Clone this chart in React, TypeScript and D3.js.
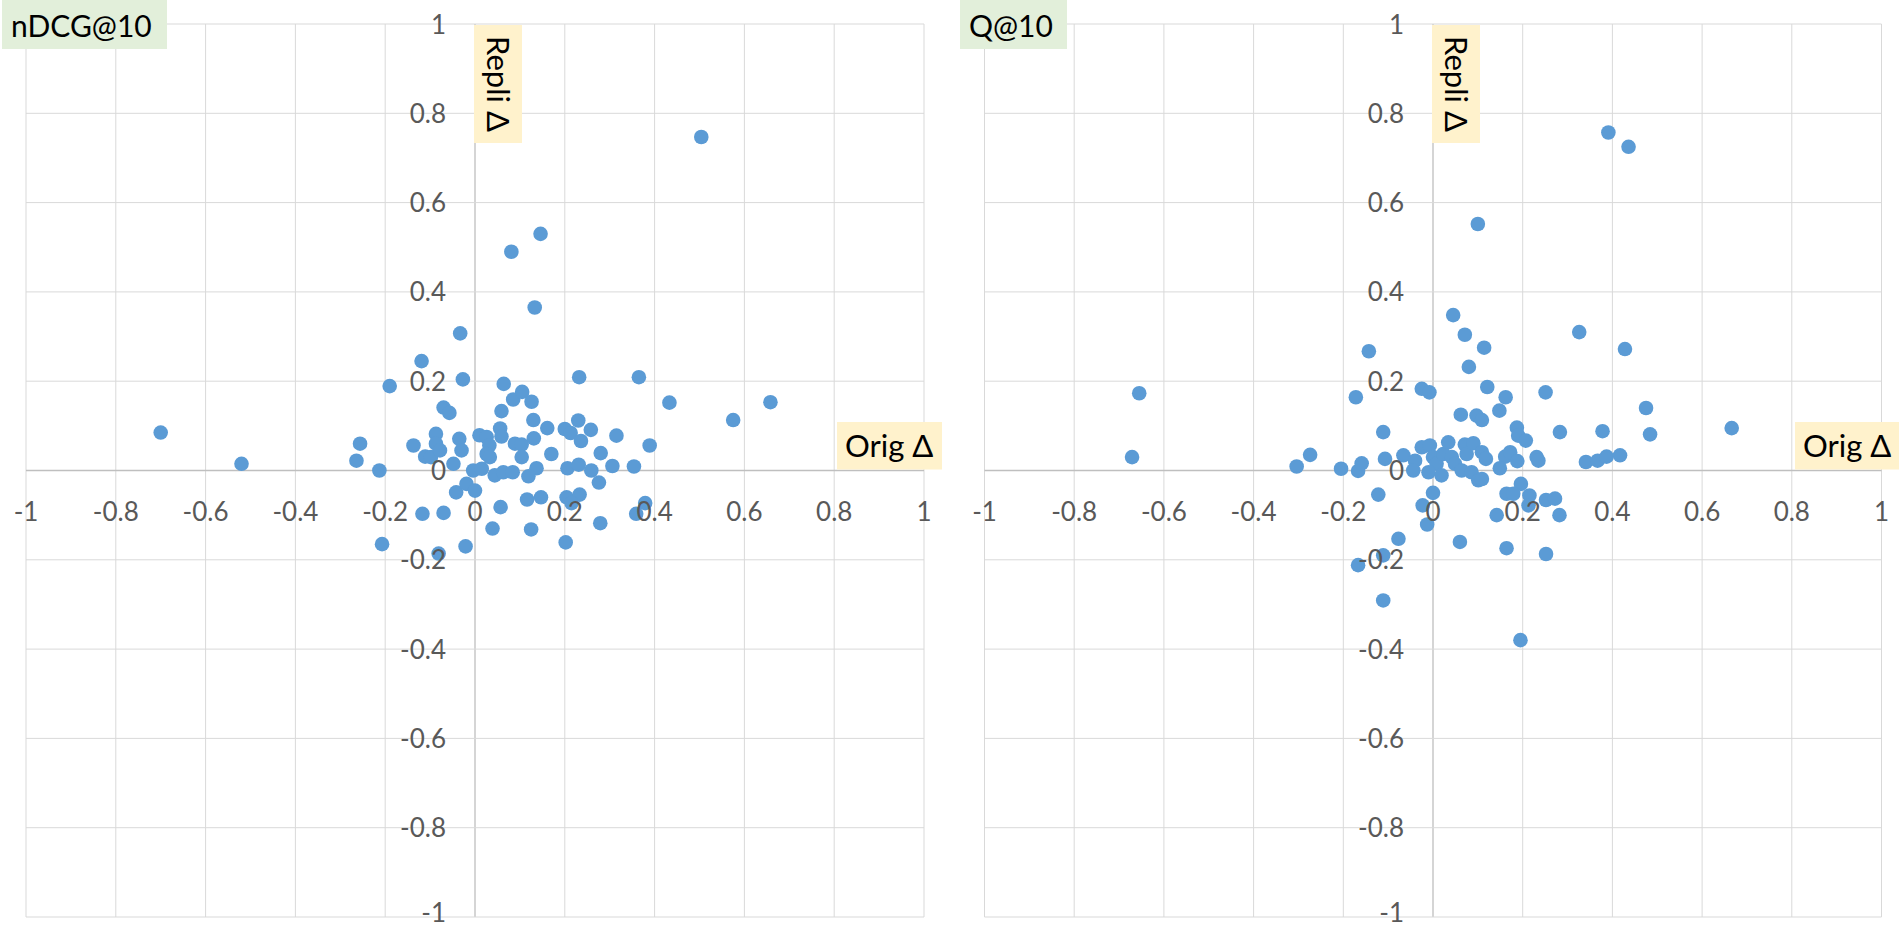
import React from "react";
import * as d3 from "d3";

const tickValues = [-1, -0.8, -0.6, -0.4, -0.2, 0, 0.2, 0.4, 0.6, 0.8, 1];
const tickLabels = ["-1", "-0.8", "-0.6", "-0.4", "-0.2", "0", "0.2", "0.4", "0.6", "0.8", "1"];

// nDCG@10: [Orig Δ, Repli Δ]
const ndcgPoints: [number, number][] = [
  [-0.70, 0.085], [-0.52, 0.015], [-0.256, 0.06], [-0.264, 0.022], [-0.213, 0.0],
  [-0.207, -0.165], [-0.19, 0.189], [-0.119, 0.245], [-0.137, 0.056], [-0.117, -0.097],
  [-0.087, 0.082], [-0.087, 0.06], [-0.111, 0.031], [-0.098, 0.03], [-0.078, 0.045],
  [-0.07, 0.141], [-0.057, 0.129], [-0.07, -0.095], [-0.081, -0.186], [-0.048, 0.015],
  [-0.035, 0.071], [-0.03, 0.045], [-0.033, 0.307], [-0.027, 0.204], [-0.042, -0.049],
  [-0.019, -0.03], [-0.021, -0.17], [0.0, -0.045], [-0.004, 0.0], [0.015, 0.004],
  [0.01, 0.079], [0.026, 0.075], [0.032, 0.056], [0.026, 0.037], [0.033, 0.03],
  [0.044, -0.011], [0.056, 0.094], [0.059, 0.076], [0.059, 0.133], [0.064, 0.194],
  [0.063, -0.004], [0.057, -0.082], [0.039, -0.13], [0.081, 0.49], [0.084, -0.004],
  [0.085, 0.159], [0.089, 0.06], [0.104, 0.058], [0.104, 0.03], [0.105, 0.176],
  [0.126, 0.154], [0.13, 0.113], [0.133, 0.365], [0.146, 0.53], [0.131, 0.072],
  [0.137, 0.005], [0.119, -0.013], [0.116, -0.065], [0.147, -0.06], [0.125, -0.132],
  [0.161, 0.095], [0.17, 0.037], [0.2, 0.093], [0.213, 0.084], [0.23, 0.112],
  [0.258, 0.091], [0.236, 0.066], [0.232, 0.209], [0.28, 0.039], [0.315, 0.078],
  [0.389, 0.056], [0.365, 0.209], [0.433, 0.152], [0.575, 0.113], [0.658, 0.153],
  [0.504, 0.747], [0.206, 0.005], [0.231, 0.013], [0.259, 0.0], [0.276, -0.027],
  [0.306, 0.01], [0.354, 0.009], [0.204, -0.06], [0.233, -0.054], [0.379, -0.073],
  [0.359, -0.097], [0.279, -0.118], [0.202, -0.161], [0.215, -0.073],
];

// Q@10: [Orig Δ, Repli Δ]
const qPoints: [number, number][] = [
  [-0.671, 0.03], [-0.655, 0.173], [-0.304, 0.009], [-0.274, 0.035], [-0.205, 0.004],
  [-0.167, -0.001], [-0.159, 0.016], [-0.172, 0.164], [-0.143, 0.267], [-0.122, -0.054],
  [-0.111, 0.086], [-0.107, 0.026], [-0.066, 0.034], [-0.04, 0.022], [-0.044, 0.0],
  [-0.025, 0.052], [-0.007, 0.056], [-0.025, 0.183], [-0.008, 0.175], [0.0, -0.05],
  [-0.023, -0.078], [-0.013, -0.121], [-0.077, -0.153], [-0.111, -0.19], [-0.167, -0.212],
  [-0.111, -0.291], [0.06, -0.16], [0.0, 0.03], [0.008, 0.015], [-0.01, -0.004],
  [0.019, -0.011], [0.023, 0.037], [0.034, 0.063], [0.042, 0.03], [0.049, 0.015],
  [0.071, 0.058], [0.075, 0.037], [0.064, 0.0], [0.09, 0.061], [0.086, -0.004],
  [0.101, -0.022], [0.045, 0.348], [0.071, 0.304], [0.08, 0.232], [0.10, 0.552],
  [0.114, 0.275], [0.062, 0.125], [0.097, 0.123], [0.109, 0.113], [0.121, 0.187],
  [0.162, 0.164], [0.148, 0.134], [0.251, 0.175], [0.187, 0.096], [0.19, 0.078],
  [0.207, 0.067], [0.283, 0.086], [0.378, 0.088], [0.326, 0.31], [0.428, 0.272],
  [0.391, 0.757], [0.436, 0.725], [0.475, 0.14], [0.484, 0.081], [0.666, 0.095],
  [0.109, 0.041], [0.118, 0.026], [0.161, 0.031], [0.172, 0.041], [0.188, 0.021],
  [0.231, 0.03], [0.235, 0.022], [0.149, 0.005], [0.341, 0.019], [0.367, 0.022],
  [0.387, 0.031], [0.417, 0.034], [0.109, -0.019], [0.196, -0.03], [0.164, -0.052],
  [0.179, -0.052], [0.215, -0.056], [0.213, -0.078], [0.252, -0.066], [0.272, -0.063],
  [0.142, -0.1], [0.282, -0.1], [0.164, -0.174], [0.252, -0.187], [0.195, -0.38],
];

const FONT = "Lato, 'Open Sans', sans-serif";
const DOT = "#5b9bd5";
const GRID = "#d9d9d9";
const ZERO = "#bfbfbf";
const LABEL = "#595959";

type PanelProps = {
  x0: number;
  x1: number;
  title: string;
  titleBox: [number, number];
  points: [number, number][];
  origBoxRight: number;
};

const Y0 = 24;
const Y1 = 917;

function Panel({ x0, x1, title, titleBox, points, origBoxRight }: PanelProps) {
  const x = d3.scaleLinear().domain([-1, 1]).range([x0, x1]);
  const y = d3.scaleLinear().domain([-1, 1]).range([Y1, Y0]);
  const zx = x(0);
  const zy = y(0);
  return (
    <g>
      {tickValues.map((t) => (
        <line key={"v" + t} x1={x(t)} x2={x(t)} y1={Y0} y2={Y1}
          stroke={t === 0 ? ZERO : GRID} strokeWidth={t === 0 ? 1.3 : 1} />
      ))}
      {tickValues.map((t) => (
        <line key={"h" + t} x1={x0} x2={x1} y1={y(t)} y2={y(t)}
          stroke={t === 0 ? ZERO : GRID} strokeWidth={t === 0 ? 1.3 : 1} />
      ))}
      {points.map(([a, b], i) => (
        <circle key={"p" + i} cx={x(a)} cy={y(b)} r={7.3} fill={DOT} />
      ))}
      {tickValues.map((t, i) => (
        <text key={"xl" + t} x={x(t)} y={zy + 50} textAnchor="middle"
          fontFamily={FONT} fontSize={26} fill={LABEL}>{tickLabels[i]}</text>
      ))}
      {tickValues.map((t, i) => (
        <text key={"yl" + t} x={zx - 29} y={Math.min(y(t) + 9.5, 922)} textAnchor="end"
          fontFamily={FONT} fontSize={26} fill={LABEL}>{tickLabels[i]}</text>
      ))}
      {/* title */}
      <rect x={titleBox[0]} y={0} width={titleBox[1] - titleBox[0]} height={49} fill="#e2efda" />
      <text x={titleBox[0] + 9} y={37} fontFamily={FONT} fontSize={30} fill="#000">{title}</text>
      {/* Repli label */}
      <rect x={zx - 1} y={25} width={48} height={118} fill="#fff2cc" />
      <text transform={`translate(${zx + 12}, ${84}) rotate(90)`} textAnchor="middle"
        fontFamily={FONT} fontSize={31} fill="#000">Repli Δ</text>
      {/* Orig label */}
      <rect x={origBoxRight - 105} y={422} width={105} height={47.5} fill="#fff2cc" />
      <text x={origBoxRight - 97} y={457} fontFamily={FONT} fontSize={31} fill="#000">Orig Δ</text>
    </g>
  );
}

export default function App() {
  return (
    <svg width={1899} height={929} style={{ position: "absolute", left: 0, top: 0, background: "#fff" }}>
      <rect x={0} y={0} width={1899} height={929} fill="#fff" />
      <Panel x0={26} x1={924} title="nDCG@10" titleBox={[2, 167]} points={ndcgPoints} origBoxRight={942} />
      <Panel x0={984.5} x1={1881.5} title="Q@10" titleBox={[960, 1067]} points={qPoints} origBoxRight={1900} />
    </svg>
  );
}
